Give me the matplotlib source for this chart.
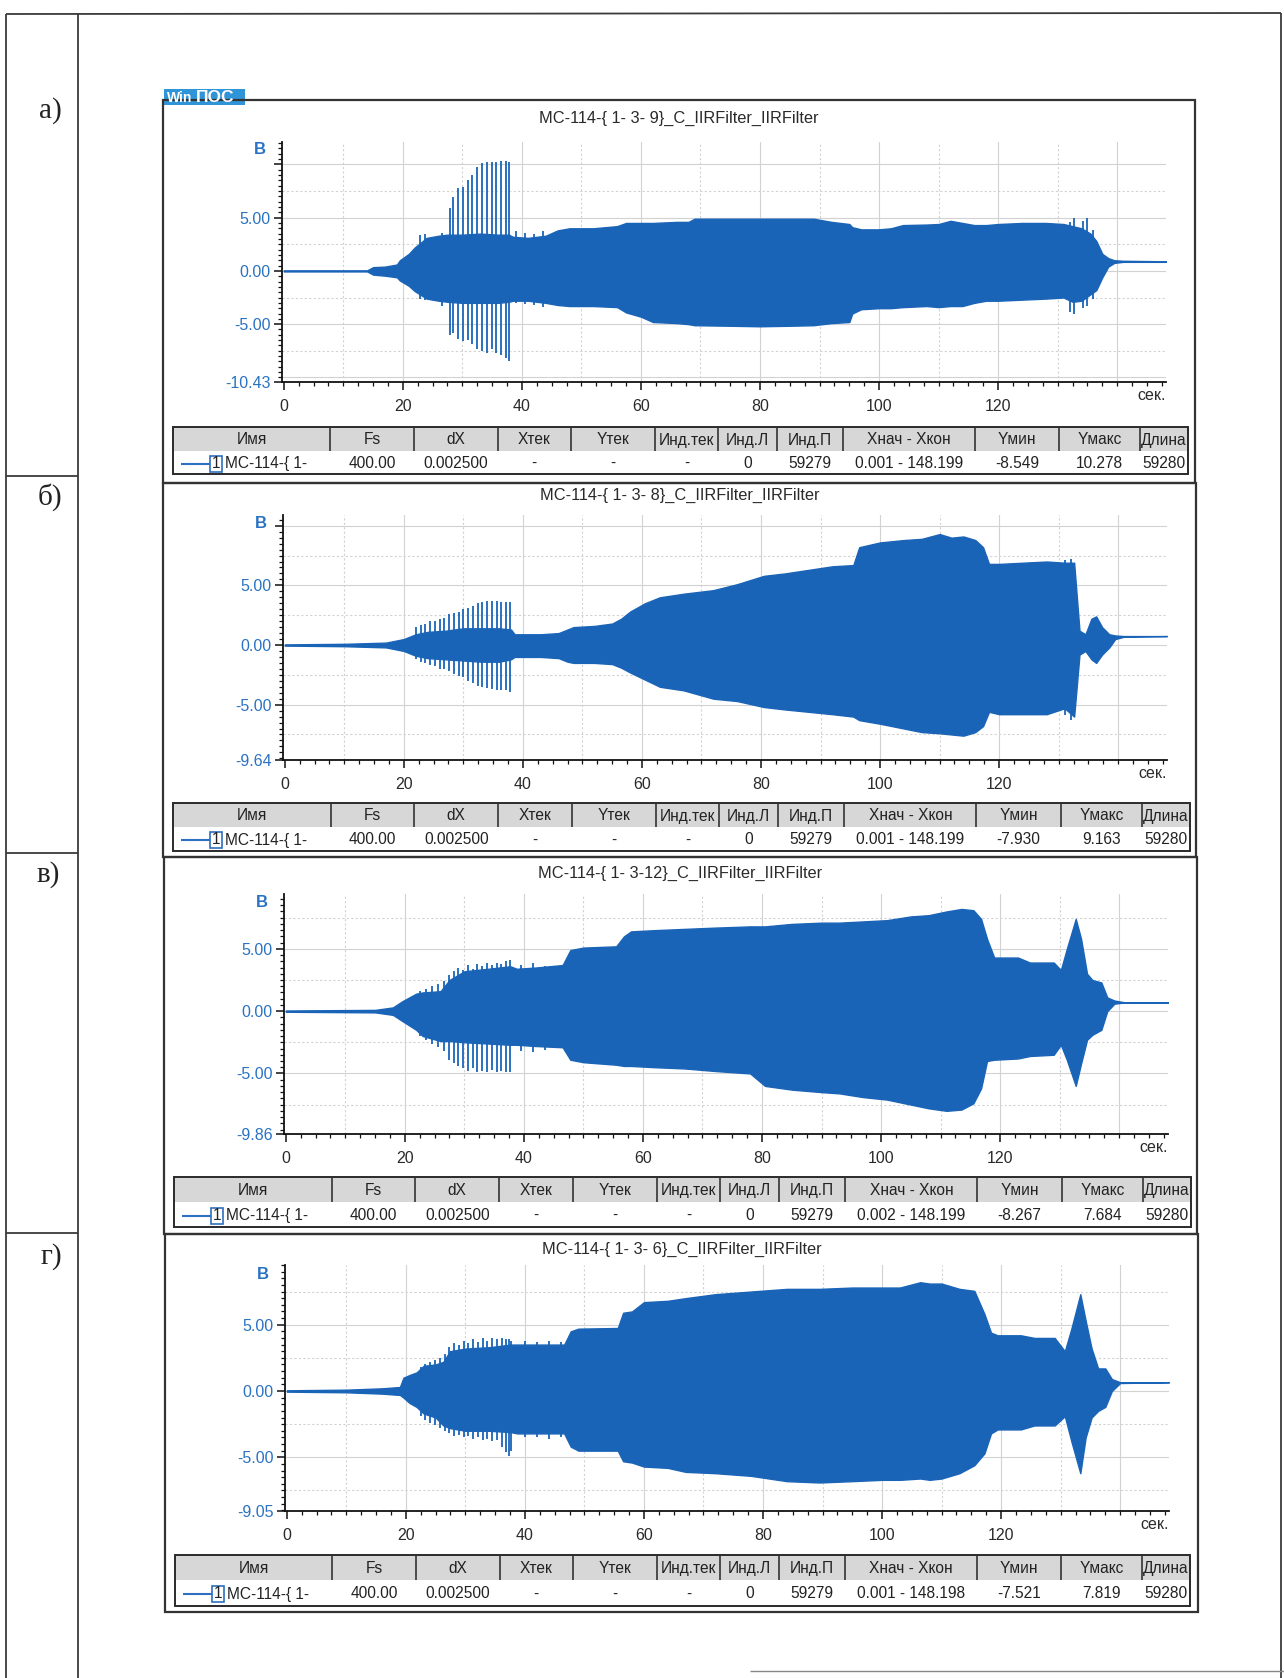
import numpy as np
import matplotlib
matplotlib.use('Agg')
import matplotlib.pyplot as plt
from matplotlib.patches import Rectangle
from matplotlib.ticker import FixedLocator, MultipleLocator, FixedFormatter
import matplotlib.transforms as mtransforms

plt.rcParams['font.family'] = ['Liberation Sans', 'DejaVu Sans']

# ------------------------------------------------------------------ data
titles = ['MC-114-{ 1- 3- 9}_C_IIRFilter_IIRFilter',
          'MC-114-{ 1- 3- 8}_C_IIRFilter_IIRFilter',
          'MC-114-{ 1- 3-12}_C_IIRFilter_IIRFilter',
          'MC-114-{ 1- 3- 6}_C_IIRFilter_IIRFilter']
row_labels = ['а)', 'б)', 'в)', 'г)']
y_bottom = [-10.43, -9.64, -9.86, -9.05]
y_top = [12.1, 10.9, 9.4, 9.5]
x_ticks = [0, 20, 40, 60, 80, 100, 120]
y_ticks = [-5, 0, 5, 10]
y_tick_labels = ['-5.00', '0.00', '5.00', '']

table_header = ['Имя', 'Fs', 'dX', 'Xтек', 'Yтек', 'Инд.тек', 'Инд.Л',
                'Инд.П', 'Xнач - Xкон', 'Yмин', 'Yмакс', 'Длина']
row_a = ['MC-114-{ 1-', '400.00', '0.002500', '-', '-', '-', '0', '59279',
         '0.001 - 148.199', '-8.549', '10.278', '59280']
row_b = ['MC-114-{ 1-', '400.00', '0.002500', '-', '-', '-', '0', '59279',
         '0.001 - 148.199', '-7.930', '9.163', '59280']
row_c = ['MC-114-{ 1-', '400.00', '0.002500', '-', '-', '-', '0', '59279',
         '0.002 - 148.199', '-8.267', '7.684', '59280']
row_d = ['MC-114-{ 1-', '400.00', '0.002500', '-', '-', '-', '0', '59279',
         '0.001 - 148.198', '-7.521', '7.819', '59280']

# envelope of the signal (upper / lower), panel a
env_t_a = [0, 14, 15, 17, 19, 19.5, 21, 22, 24, 26,
           27.5, 30, 33, 36, 37.8, 38.5, 41, 44, 46, 48,
           52, 56, 57.5, 60, 62, 66, 68, 69, 75, 80,
           85, 89, 92, 95, 95.5, 97, 100, 102, 104, 108,
           110, 112, 114, 116, 118, 120, 124, 128, 131, 132.5,
           134, 135.5, 136.5, 137.5, 138.5, 139.5, 141, 148.2]
env_hi_a = [0.05, 0.05, 0.35, 0.4, 0.6, 1.0, 1.6, 2.2, 3.1, 3.3,
            3.4, 3.4, 3.5, 3.4, 3.4, 3.2, 3.1, 3.3, 3.8, 4.0,
            4.0, 4.2, 4.5, 4.5, 4.5, 4.6, 4.6, 4.9, 4.9, 4.9,
            4.9, 4.9, 4.6, 4.4, 4.1, 3.9, 3.9, 4.0, 4.3, 4.35,
            4.4, 4.7, 4.5, 4.3, 4.3, 4.4, 4.5, 4.5, 4.4, 4.2,
            4.0, 3.5, 2.8, 1.6, 1.2, 1.0, 0.95, 0.9]
env_lo_a = [-0.05, -0.05, -0.35, -0.45, -0.6, -0.9, -1.4, -1.9, -2.6, -2.8,
            -2.9, -3.0, -3.0, -3.0, -2.9, -2.8, -2.8, -3.0, -3.2, -3.3,
            -3.3, -3.4, -3.9, -4.3, -4.8, -4.9, -5.0, -5.1, -5.15, -5.2,
            -5.15, -5.1, -4.9, -4.8, -4.0, -3.6, -3.5, -3.5, -3.4, -3.3,
            -3.4, -3.3, -3.3, -3.0, -2.8, -2.8, -2.7, -2.6, -2.5, -2.9,
            -2.8, -2.2, -1.8, -0.6, 0.4, 0.75, 0.85, 0.85]
spk_t_a = [22.9, 23.8, 26.6, 27.9, 28.5, 29.3, 30.1, 30.9, 31.7, 32.5,
           33.3, 34.1, 34.9, 35.7, 36.5, 37.3, 37.9, 39.0, 40.5, 42.0,
           43.5, 132.0, 132.8, 134.2, 135.0, 136.0]
spk_hi_a = [3.4, 3.5, 3.6, 5.9, 6.9, 7.8, 7.9, 8.5, 9.0, 9.8,
            10.1, 10.2, 10.2, 10.2, 10.3, 10.28, 10.2, 3.7, 3.6, 3.5,
            3.7, 4.6, 5.0, 4.7, 5.0, 3.8]
spk_lo_a = [-2.6, -2.7, -3.3, -6.0, -5.8, -6.4, -6.6, -6.5, -6.9, -7.3,
            -7.5, -7.7, -7.3, -7.7, -7.9, -8.2, -8.5, -3.0, -3.1, -3.2,
            -3.4, -3.9, -4.0, -3.5, -3.3, -2.6]

# panel b
env_t_b = [0, 10, 17, 20, 22, 24, 27, 30, 33, 36,
           38, 38.6, 40, 43, 46, 47.5, 48.5, 52, 55, 56.5,
           58, 60.5, 63, 67, 72, 76, 80.5, 84, 88, 92,
           95.5, 96.5, 100, 104, 107, 110, 112, 114, 116, 117.3,
           118.3, 120, 124, 128, 131, 132.6, 133.5, 134.5, 135.5, 136.3,
           137.3, 138.5, 139.5, 141, 148.2]
env_hi_b = [0.05, 0.1, 0.2, 0.5, 0.9, 1.1, 1.2, 1.4, 1.4, 1.4,
            1.3, 0.9, 0.9, 0.9, 1.0, 1.3, 1.5, 1.6, 1.8, 2.2,
            2.8, 3.5, 4.0, 4.3, 4.6, 5.1, 5.8, 6.0, 6.3, 6.6,
            6.7, 8.2, 8.6, 8.8, 8.9, 9.3, 9.0, 9.1, 8.8, 8.2,
            6.8, 6.8, 6.9, 7.0, 6.9, 6.9, 1.2, 0.9, 2.2, 2.4,
            1.5, 0.9, 0.8, 0.75, 0.75]
env_lo_b = [-0.05, -0.1, -0.2, -0.5, -0.9, -1.1, -1.2, -1.3, -1.4, -1.4,
            -1.2, -1.0, -1.0, -1.0, -1.1, -1.4, -1.5, -1.5, -1.6, -1.9,
            -2.3, -2.9, -3.5, -3.8, -4.5, -4.7, -5.2, -5.4, -5.6, -5.8,
            -6.0, -6.3, -6.6, -7.0, -7.3, -7.4, -7.5, -7.6, -7.3, -6.8,
            -5.6, -5.8, -5.8, -5.8, -5.3, -6.0, -0.8, -0.5, -1.2, -1.5,
            -0.8, -0.2, 0.5, 0.7, 0.75]
spk_t_b = [22.0, 22.8, 23.6, 24.4, 25.2, 26.0, 26.8, 27.6, 28.4, 29.2,
           30.0, 30.8, 31.6, 32.4, 33.2, 34.0, 34.8, 35.6, 36.4, 37.2,
           37.9, 131.0, 132.0]
spk_hi_b = [1.5, 1.7, 1.8, 2.0, 2.0, 2.2, 2.3, 2.6, 2.7, 2.8,
            3.0, 3.1, 3.3, 3.5, 3.6, 3.7, 3.7, 3.7, 3.6, 3.6,
            3.6, 7.1, 7.2]
spk_lo_b = [-1.2, -1.4, -1.5, -1.7, -1.8, -2.0, -2.0, -2.2, -2.4, -2.6,
            -2.7, -3.0, -3.2, -3.4, -3.5, -3.6, -3.7, -3.8, -3.8, -3.8,
            -3.9, -5.9, -6.3]

# panel c
env_t_c = [0, 15, 18, 19.6, 21.9, 23, 26, 27.5, 30, 34,
           37.7, 38.8, 42, 46.5, 47.8, 50, 55.5, 56.8, 58, 62,
           67, 72, 78, 80.5, 85, 90, 93, 97, 101, 105,
           108, 111, 113.5, 115.5, 116.8, 117.8, 119, 123, 125, 129,
           130.2, 131.2, 132.7, 133.6, 134.6, 135.5, 137, 138, 139.2, 141,
           148.2]
env_hi_c = [0.05, 0.1, 0.3, 0.8, 1.4, 1.5, 1.6, 2.5, 3.2, 3.4,
            3.6, 3.4, 3.5, 3.7, 4.9, 5.1, 5.2, 6.0, 6.4, 6.5,
            6.6, 6.7, 6.8, 6.8, 7.0, 7.1, 7.1, 7.2, 7.3, 7.6,
            7.7, 8.0, 8.2, 8.1, 7.4, 5.8, 4.3, 4.3, 3.9, 3.9,
            3.3, 5.0, 7.4, 5.8, 3.0, 2.5, 2.3, 1.1, 0.85, 0.7,
            0.7]
env_lo_c = [-0.05, -0.1, -0.3, -0.8, -1.5, -2.0, -2.4, -2.4, -2.5, -2.6,
            -2.7, -2.7, -2.8, -2.9, -3.9, -4.1, -4.3, -4.4, -4.4, -4.5,
            -4.6, -4.8, -5.0, -6.0, -6.3, -6.5, -6.6, -6.9, -7.1, -7.5,
            -7.8, -8.0, -7.9, -7.4, -6.2, -4.0, -3.9, -3.8, -3.6, -3.5,
            -2.7, -3.9, -6.0, -4.2, -2.3, -1.9, -1.5, 0.0, 0.6, 0.7,
            0.7]
spk_t_c = [22.5, 23.5, 24.5, 25.5, 26.5, 27.4, 28.2, 29.0, 29.8, 30.6,
           31.4, 32.2, 33.0, 33.8, 34.6, 35.4, 36.2, 37.0, 37.7, 39.5,
           41.5, 43.5]
spk_hi_c = [1.6, 1.8, 2.0, 2.2, 2.4, 2.9, 3.2, 3.5, 3.3, 3.7,
            3.4, 3.8, 3.6, 3.9, 3.7, 3.9, 3.8, 4.0, 4.1, 3.7,
            3.9, 3.6]
spk_lo_c = [-2.0, -2.3, -2.6, -2.9, -3.2, -3.9, -4.2, -4.4, -4.6, -4.8,
            -4.6, -4.9, -4.8, -4.9, -4.7, -4.9, -4.8, -4.9, -4.9, -3.2,
            -3.3, -3.1]

# panel d
env_t_d = [0, 10, 16, 19, 19.6, 20.6, 21.8, 23, 25, 26.3,
           27.4, 30, 34, 37.6, 38.7, 43, 46.6, 47.7, 49, 55.6,
           56.5, 58, 60, 64, 67, 72, 78, 84, 89.5, 95,
           100, 103, 106.4, 108, 110, 113, 115.5, 117.2, 118.3, 119.4,
           123.3, 125.6, 129, 130.7, 131.8, 133.3, 134.2, 135.2, 136.3, 137.5,
           138.6, 140, 148.2]
env_hi_d = [0.05, 0.1, 0.2, 0.3, 1.0, 1.2, 1.4, 1.9, 2.0, 2.2,
            3.0, 3.2, 3.3, 3.5, 3.5, 3.5, 3.5, 4.5, 4.7, 4.75,
            5.9, 6.0, 6.7, 6.8, 7.0, 7.3, 7.5, 7.7, 7.7, 7.8,
            7.8, 7.8, 8.2, 8.1, 8.1, 7.7, 7.55, 5.8, 4.4, 4.2,
            4.2, 4.0, 4.0, 3.0, 4.7, 7.3, 5.3, 3.2, 1.7, 1.7,
            0.9, 0.66, 0.66]
env_lo_d = [-0.05, -0.1, -0.2, -0.3, -0.5, -0.9, -1.2, -1.7, -2.0, -2.6,
            -2.8, -3.0, -3.0, -3.1, -3.2, -3.2, -3.2, -4.2, -4.5, -4.5,
            -5.3, -5.4, -5.7, -5.8, -6.1, -6.2, -6.4, -6.8, -6.9, -6.8,
            -6.7, -6.7, -6.6, -6.7, -6.6, -6.2, -5.6, -4.7, -3.2, -2.9,
            -2.9, -2.6, -2.6, -1.9, -3.8, -6.2, -3.5, -2.0, -1.5, -1.2,
            0.0, 0.6, 0.66]
spk_t_d = [22.5, 23.3, 24.1, 24.9, 25.7, 26.5, 27.3, 28.1, 28.9, 29.7,
           30.5, 31.3, 32.1, 32.9, 33.7, 34.5, 35.3, 36.1, 36.9, 37.3,
           37.7, 40.0, 42.0, 44.0, 46.0]
spk_hi_d = [1.8, 2.0, 2.2, 2.3, 2.5, 2.8, 3.3, 3.6, 3.5, 3.8,
            3.6, 3.9, 3.7, 4.0, 3.8, 4.0, 3.9, 4.0, 3.9, 3.9,
            3.8, 3.8, 3.7, 3.8, 3.7]
spk_lo_d = [-1.9, -2.2, -2.4, -2.6, -2.8, -3.0, -3.2, -3.4, -3.3, -3.5,
            -3.4, -3.6, -3.5, -3.7, -3.6, -3.8, -3.7, -4.2, -4.6, -4.9,
            -4.5, -3.5, -3.5, -3.6, -3.5]

# ------------------------------------------------------------------ layout (pixels)
W, H = 1284, 1678
SIG = '#1a64b8'
TICKBLUE = '#2a72c2'
FS_TXT = 11.5
FS_TAB = 11.2

fig = plt.figure(figsize=(W / 100, H / 100), dpi=100)
bg = fig.add_axes([0, 0, 1, 1])
bg.set_xlim(0, W)
bg.set_ylim(H, 0)
bg.axis('off')


def line(x0, y0, x1, y1, c='#3a3a3a', lw=1.3, z=1):
    bg.plot([x0, x1], [y0, y1], color=c, lw=lw, solid_capstyle='butt', zorder=z)


# outer document table
line(6, 14, 1281, 13)
line(6, 14, 6, H)
line(78, 14, 78, H)
line(1281, 13, 1281, H)
for yy in (476, 853, 1233):
    line(6, yy, 78, yy)
label_pos = [(50, 111), (50, 497), (48, 875), (51, 1257)]
for (lx, ly), lab in zip(label_pos, row_labels):
    bg.text(lx, ly, lab, fontsize=21, family=['Liberation Serif', 'DejaVu Serif'],
            ha='center', va='center', color='#222222')
line(750, 1671, 1284, 1671, c='#888888', lw=1.0)

# WinПОС logo
bg.add_patch(Rectangle((164, 89), 81, 16, facecolor='#2f95d8', edgecolor='none', zorder=2))
bg.text(167, 97.5, 'Win', color='white', fontsize=10, weight='bold', ha='left', va='center', zorder=3)
bg.text(196, 97.5, 'ПОС', color='white', fontsize=12.5, weight='bold', ha='left', va='center', zorder=3)

frames = [(163, 100, 1195, 483), (163, 483, 1196, 857), (164, 857, 1197, 1234), (165, 1234, 1198, 1612)]
title_y = [118, 495, 873, 1249]
axes_px = [(282, 142, 1166, 382), (283, 515, 1167, 760), (284, 894, 1168, 1134), (285, 1265, 1169, 1511)]
table_px = [(173, 427, 451, 474, 1188), (173, 803, 827, 851, 1190), (174, 1177, 1202, 1227, 1191),
            (175, 1555, 1580, 1606, 1190)]
col_frac = [0, 0.155, 0.237, 0.320, 0.392, 0.475, 0.537, 0.595, 0.66, 0.79, 0.873, 0.953, 1.0]

envs = [(env_t_a, env_hi_a, env_lo_a, spk_t_a, spk_hi_a, spk_lo_a),
        (env_t_b, env_hi_b, env_lo_b, spk_t_b, spk_hi_b, spk_lo_b),
        (env_t_c, env_hi_c, env_lo_c, spk_t_c, spk_hi_c, spk_lo_c),
        (env_t_d, env_hi_d, env_lo_d, spk_t_d, spk_hi_d, spk_lo_d)]
rows = [row_a, row_b, row_c, row_d]

for i in range(4):
    fl, ft, fr, fb = frames[i]
    bg.add_patch(Rectangle((fl, ft), fr - fl, fb - ft, facecolor='none', edgecolor='#333333', lw=1.6, zorder=2))
    bg.text((fl + fr) / 2, title_y[i], titles[i], fontsize=11.8, ha='center', va='center', color='#2a2a2a')

    al, at, ar, ab = axes_px[i]
    ax = fig.add_axes([al / W, 1 - ab / H, (ar - al) / W, (ab - at) / H])
    ax.set_facecolor('white')
    ax.set_xlim(-0.3, 148.2)
    ax.set_ylim(y_bottom[i], y_top[i])
    for s in ('top', 'right'):
        ax.spines[s].set_visible(False)
    for s in ('left', 'bottom'):
        ax.spines[s].set_color('#111111')
        ax.spines[s].set_linewidth(1.3)

    # grid
    for gx in range(10, 150, 10):
        if gx % 20 == 0:
            ax.axvline(gx, color='#d2d2d2', lw=0.8, zorder=0)
        else:
            ax.axvline(gx, color='#d2d2d2', lw=0.8, ls=(0, (2, 2)), zorder=0)
    gy = -10.0
    while gy <= y_top[i]:
        if gy > y_bottom[i]:
            if abs(gy % 5) < 1e-9:
                ax.axhline(gy, color='#d2d2d2', lw=0.8, zorder=0)
            else:
                ax.axhline(gy, color='#d2d2d2', lw=0.8, ls=(0, (2, 2)), zorder=0)
        gy += 2.5

    t, hi, lo, st, sh, sl = envs[i]
    ax.fill_between(t, lo, hi, color=SIG, lw=1.0, edgecolor=SIG, zorder=3)
    ax.vlines(st, sl, sh, color=SIG, lw=1.3, zorder=3)

    # ticks
    yt = [y_bottom[i]] + [v for v in y_ticks if v < y_top[i]]
    ylab = ['%.2f' % y_bottom[i]] + [l for v, l in zip(y_ticks, y_tick_labels) if v < y_top[i]]
    ax.yaxis.set_major_locator(FixedLocator(yt))
    ax.yaxis.set_major_formatter(FixedFormatter(ylab))
    ax.yaxis.set_minor_locator(MultipleLocator(0.5))
    ax.xaxis.set_major_locator(FixedLocator(x_ticks))
    ax.xaxis.set_minor_locator(MultipleLocator(2.5))
    ax.tick_params(axis='y', which='major', length=6, width=1.1, colors='#111111',
                   labelcolor=TICKBLUE, labelsize=FS_TXT, pad=2)
    ax.tick_params(axis='y', which='minor', length=3, width=0.9, colors='#111111')
    ax.tick_params(axis='x', which='major', length=6, width=1.1, colors='#111111',
                   labelcolor='#2a2a2a', labelsize=FS_TXT, pad=6)
    ax.tick_params(axis='x', which='minor', length=3, width=0.9, colors='#111111')
    trans = mtransforms.blended_transform_factory(ax.transAxes, ax.transData)
    ax.text(-0.018, y_top[i] - 0.7, 'B', transform=trans, color=TICKBLUE, fontsize=12,
            weight='bold', ha='right', va='center')
    ax.text(1.0, -0.025, 'сек.', transform=ax.transAxes, color='#2a2a2a', fontsize=FS_TXT,
            ha='right', va='top')

    # info table
    tl, tt, tm, tb, tr = table_px[i]
    tw = tr - tl
    bg.add_patch(Rectangle((tl, tt), tw, tm - tt, facecolor='#d7d7d7', edgecolor='none', zorder=2))
    bg.add_patch(Rectangle((tl, tt), tw, tb - tt, facecolor='none', edgecolor='#2a2a2a', lw=1.4, zorder=4))
    xs = [tl + f * tw for f in col_frac]
    for xc in xs[1:-1]:
        line(xc, tt, xc, tm, c='#333333', lw=1.2, z=4)
    for k in range(12):
        cx = (xs[k] + xs[k + 1]) / 2
        bg.text(cx, (tt + tm) / 2 + 1, table_header[k], fontsize=FS_TAB, ha='center', va='center',
                color='#222222', zorder=5)
    ym = (tm + tb) / 2 + 1
    line(tl + 8, ym, tl + 37, ym, c='#2f6fbf', lw=1.5, z=5)
    bg.add_patch(Rectangle((tl + 37, ym - 8), 12, 16, facecolor='white', edgecolor='#2f6fbf', lw=1.2, zorder=5))
    bg.text(tl + 43, ym, '1', fontsize=FS_TAB, ha='center', va='center', color='#222222', zorder=6)
    bg.text(tl + 52, ym, rows[i][0], fontsize=FS_TAB, ha='left', va='center', color='#222222', zorder=5)
    for k in range(1, 12):
        cx = (xs[k] + xs[k + 1]) / 2
        bg.text(cx, ym, rows[i][k], fontsize=FS_TAB, ha='center', va='center', color='#222222', zorder=5)

fig.savefig('out.png', dpi=100, facecolor='white')
